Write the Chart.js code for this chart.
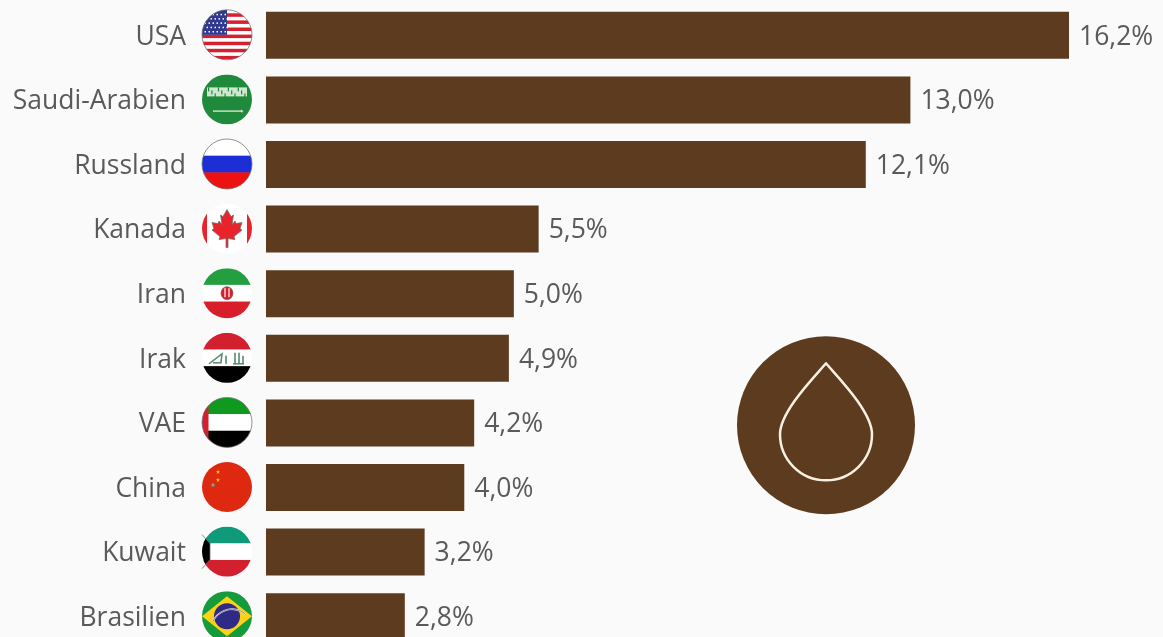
<!DOCTYPE html>
<html>
<head>
<meta charset="utf-8">
<title>Oel</title>
<script src="https://cdn.jsdelivr.net/npm/chart.js@4/dist/chart.umd.min.js"></script>
<style>
  html, body { margin: 0; padding: 0; background: #fafafa; overflow: hidden; }
  #wrap { position: relative; width: 1163px; height: 637px; overflow: hidden; }
  #box { position: absolute; left: 0; top: 2.7px; width: 1163px; height: 646px; }
</style>
</head>
<body>
<div id="wrap"><div id="box"><canvas id="myChart"></canvas></div></div>
<script>
const countries = ["USA", "Saudi-Arabien", "Russland", "Kanada", "Iran", "Irak", "VAE", "China", "Kuwait", "Brasilien"];
const shares = [16.2, 13.0, 12.1, 5.5, 5.0, 4.9, 4.2, 4.0, 3.2, 2.8];

const brown = "#5c3b1e";
const textColor = "#5a5a5a";
const fontName = "'Open Sans'";
const fontSize = 26.5;

function bands(ctx, colors) {
  // horizontal stripes across the flag circle
  const h = 50 / colors.length;
  colors.forEach(function(c, i) {
    ctx.fillStyle = c;
    ctx.fillRect(-25, -25 + i * h, 50, h + 0.5);
  });
}

function star(ctx, x, y, r) {
  ctx.beginPath();
  for (let i = 0; i < 10; i++) {
    const a = -Math.PI / 2 + i * Math.PI / 5;
    const q = i % 2 ? r * 0.42 : r;
    ctx.lineTo(x + Math.cos(a) * q, y + Math.sin(a) * q);
  }
  ctx.closePath();
  ctx.fill();
}

const flags = {
  "USA": function(ctx) {
    ctx.fillStyle = "#fff";
    ctx.fillRect(-25, -25, 50, 50);
    ctx.fillStyle = "#d5202e";
    for (let i = 0; i < 7; i++) ctx.fillRect(-25, -21.5 + i * 7.1, 50, 3.5);
    ctx.fillStyle = "#2f3a8f";
    ctx.fillRect(-25, -25, 25, 25);
    ctx.fillStyle = "#fff";
    for (let r = 0; r < 5; r++) {
      for (let c = 0; c < 6; c++) {
        ctx.fillRect(-22.5 + c * 4 + (r % 2) * 2, -21 + r * 4.3, 1.5, 1.5);
      }
    }
  },
  "Saudi-Arabien": function(ctx) {
    ctx.fillStyle = "#1f8a3b";
    ctx.fillRect(-25, -25, 50, 50);
    ctx.fillStyle = "#cfe6cf";
    ctx.fillRect(-20, -12, 40, 9);
    ctx.fillStyle = "#1f8a3b";
    for (let i = 0; i < 12; i++) ctx.fillRect(-19 + i * 3.3, -12 + (i % 3) * 3, 1.2, 4);
    ctx.fillStyle = "#cfe6cf";
    ctx.fillRect(-14, 11, 28, 1.4);
    ctx.beginPath();
    ctx.moveTo(14, 9.5); ctx.lineTo(17, 12); ctx.lineTo(14, 13.5);
    ctx.fill();
  },
  "Russland": function(ctx) { bands(ctx, ["#ffffff", "#1c2fd6", "#ee1111"]); },
  "Kanada": function(ctx) {
    ctx.fillStyle = "#fff";
    ctx.fillRect(-25, -25, 50, 50);
    ctx.fillStyle = "#e8232a";
    ctx.fillRect(-25, -25, 5, 50);
    ctx.fillRect(20, -25, 5, 50);
    const leaf = [[0,-19],[-4,-12],[-6.5,-13.5],[-5,-4],[-8,-7.5],[-9,-5],[-15,-6],[-13,0],[-15,1.5],[-7,8],[-8,11],[-1,10],[-1,19],[1,19],[1,10],[8,11],[7,8],[15,1.5],[13,0],[15,-6],[9,-5],[8,-7.5],[5,-4],[6.5,-13.5],[4,-12]];
    ctx.beginPath();
    leaf.forEach(function(p) { ctx.lineTo(p[0], p[1]); });
    ctx.closePath();
    ctx.fill();
  },
  "Iran": function(ctx) {
    bands(ctx, ["#239f40", "#ffffff", "#d81e2a"]);
    ctx.fillStyle = "#d81e2a";
    ctx.beginPath();
    ctx.ellipse(0, 0, 6, 6.5, 0, 0, Math.PI * 2);
    ctx.fill();
    ctx.fillStyle = "#fff";
    ctx.fillRect(-2.6, -5, 1.2, 9);
    ctx.fillRect(1.4, -5, 1.2, 9);
  },
  "Irak": function(ctx) {
    bands(ctx, ["#d3202f", "#ffffff", "#000000"]);
    ctx.strokeStyle = "#5fb08a";
    ctx.lineWidth = 1.6;
    ctx.beginPath();
    ctx.moveTo(-18, 6); ctx.lineTo(-5, -4); ctx.lineTo(-6, 5); ctx.lineTo(-14, 5);
    ctx.moveTo(-1, 6); ctx.lineTo(-1, -2);
    ctx.moveTo(6, 6); ctx.lineTo(17, 6);
    ctx.moveTo(8, 6); ctx.lineTo(8, -5);
    ctx.moveTo(12, 6); ctx.lineTo(12, -5);
    ctx.moveTo(16, 6); ctx.lineTo(16, -2);
    ctx.stroke();
  },
  "VAE": function(ctx) {
    bands(ctx, ["#0f9a1f", "#ffffff", "#000000"]);
    ctx.fillStyle = "#d3202f";
    ctx.fillRect(-25, -25, 6.5, 50);
  },
  "China": function(ctx) {
    ctx.fillStyle = "#de2910";
    ctx.fillRect(-25, -25, 50, 50);
    ctx.fillStyle = "#ffb81c";
    star(ctx, -9, -15, 2.4);
    star(ctx, -9, -7, 2.4);
    star(ctx, -14, -2, 2.4);
  },
  "Kuwait": function(ctx) {
    bands(ctx, ["#0f9a7a", "#ffffff", "#d3202f"]);
    ctx.fillStyle = "#000";
    ctx.beginPath();
    ctx.moveTo(-25, -17); ctx.lineTo(-17, -8); ctx.lineTo(-17, 8); ctx.lineTo(-25, 17);
    ctx.fill();
  },
  "Brasilien": function(ctx) {
    ctx.fillStyle = "#169b3c";
    ctx.fillRect(-25, -25, 50, 50);
    ctx.fillStyle = "#fcd116";
    ctx.beginPath();
    ctx.moveTo(0, -20); ctx.lineTo(25, 0); ctx.lineTo(0, 20); ctx.lineTo(-25, 0);
    ctx.fill();
    ctx.fillStyle = "#2e2a86";
    ctx.beginPath();
    ctx.arc(0, 0, 13, 0, Math.PI * 2);
    ctx.fill();
    ctx.strokeStyle = "#eee";
    ctx.lineWidth = 1.6;
    ctx.beginPath();
    ctx.arc(5, 14, 21, Math.PI * 1.13, Math.PI * 1.72);
    ctx.stroke();
  }
};

// flags sit between the country name and the bar
const flagPlugin = {
  id: "flagPlugin",
  afterDatasetsDraw(chart) {
    const ctx = chart.ctx;
    const y = chart.scales.y;
    countries.forEach(function(name, i) {
      ctx.save();
      ctx.translate(227, y.getPixelForValue(i) - 0.5);
      ctx.beginPath();
      ctx.arc(0, 0, 25, 0, Math.PI * 2);
      ctx.save();
      ctx.clip();
      flags[name](ctx);
      ctx.restore();
      ctx.strokeStyle = "rgba(110,110,110,0.75)";
      ctx.lineWidth = 1;
      ctx.stroke();
      ctx.restore();
    });
  }
};

// country names and values, a bit below the bar centre like in the original
const labelPlugin = {
  id: "labelPlugin",
  afterDatasetsDraw(chart) {
    const ctx = chart.ctx;
    const meta = chart.getDatasetMeta(0);
    ctx.save();
    ctx.font = fontSize + "px " + fontName;
    ctx.fillStyle = textColor;
    ctx.textBaseline = "middle";
    meta.data.forEach(function(bar, i) {
      ctx.textAlign = "right";
      ctx.fillText(countries[i], 186, bar.y + 1.8);
      ctx.textAlign = "left";
      ctx.fillText(shares[i].toFixed(1).replace(".", ",") + "%", bar.x + 10, bar.y + 1.8);
    });
    ctx.restore();
  }
};

// oil drop badge in the empty lower right part
const dropPlugin = {
  id: "dropPlugin",
  afterDraw(chart) {
    const ctx = chart.ctx;
    ctx.save();
    ctx.translate(826, 425 - 2.7);
    ctx.fillStyle = brown;
    ctx.beginPath();
    ctx.arc(0, 0, 89, 0, Math.PI * 2);
    ctx.fill();
    ctx.strokeStyle = "#f6efe2";
    ctx.lineWidth = 2.5;
    ctx.lineJoin = "round";
    ctx.beginPath();
    ctx.moveTo(0, -62);
    ctx.bezierCurveTo(10, -50, 46, -14, 46, 9);
    ctx.arc(0, 9, 46, 0, Math.PI);
    ctx.bezierCurveTo(-46, -14, -10, -50, 0, -62);
    ctx.closePath();
    ctx.stroke();
    ctx.restore();
  }
};

new Chart("myChart", {
  type: "bar",
  data: {
    labels: countries,
    datasets: [{
      data: shares,
      backgroundColor: brown,
      categoryPercentage: 1,
      barPercentage: 0.727
    }]
  },
  options: {
    indexAxis: "y",
    responsive: true,
    maintainAspectRatio: false,
    animation: false,
    layout: { padding: 0 },
    plugins: { legend: { display: false }, tooltip: { enabled: false } },
    scales: {
      x: { display: false, min: 0, max: 18.096 },
      y: {
        afterFit(scale) {
          scale.width = 266;
          scale.paddingTop = 0;
          scale.paddingBottom = 0;
        },
        border: { display: false },
        grid: { display: false },
        ticks: { display: false }
      }
    }
  },
  plugins: [flagPlugin, labelPlugin, dropPlugin]
});
</script>
</body>
</html>
